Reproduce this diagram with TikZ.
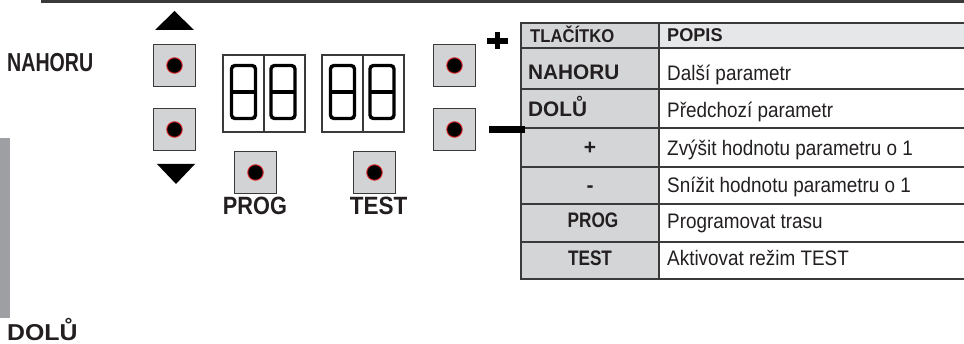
\documentclass[tikz,border=0pt]{standalone}
\usepackage{fontspec}
\setmainfont{Liberation Sans}
\definecolor{btngray}{HTML}{D1D3D4}
\definecolor{colgray}{HTML}{D4D5D7}
\definecolor{hdrgray}{HTML}{E6E7E8}
\definecolor{barcol}{HTML}{9D9FA2}
\definecolor{ink}{HTML}{231F20}
\definecolor{edge}{HTML}{3A3A3A}
\definecolor{dotred}{HTML}{E0262B}
\newcommand{\fnt}[2]{\fontsize{#1}{#1}\selectfont\addfontfeatures{FakeStretch=#2}}
\tikzset{
  btn/.style={draw=edge, line width=1.6pt, fill=btngray, minimum size=42pt, inner sep=0pt},
  btndot/.style={circle, fill=black, draw=dotred, line width=0.9pt, minimum size=15.5pt, inner sep=0pt},
  dispcell/.style={draw=edge, line width=1.1pt, minimum width=41pt, minimum height=77pt, inner sep=0pt},
  digitline/.style={draw=black, line width=3.4pt, rounded corners=3.5pt},
  eight/.pic={\draw[digitline] (0,0) rectangle (24,53); \draw[draw=black, line width=3.4pt] (0,26.5) -- (24,26.5);},
  lbl/.style={text=ink, inner sep=0pt},
  grid/.style={draw=edge, line width=1.2pt},
  gridv/.style={draw=edge, line width=1.8pt}
}
\begin{document}
\begin{tikzpicture}[x=1pt,y=-1pt]
\useasboundingbox (0,0) rectangle (964,344);
% top rule and side bar
\fill[edge] (41,0) rectangle (964,2.8);
\fill[barcol] (0,138) rectangle (10,318);
% left labels
\node[lbl, anchor=base west, font=\bfseries\fnt{26}{0.755}] (lnahoru) at (7,72) {NAHORU};
\node[lbl, anchor=base west, font=\bfseries\fnt{23}{1.08}] (ldolu) at (7,340.5) {DOLŮ};
% arrows
\fill[black] (155,30) -- (174.5,11) -- (194,30) -- cycle;
\fill[black] (157,164) -- (195,164) -- (176,184) -- cycle;
% buttons
\node[btn] (bup) at (174.5,65.5) {};
\node[btn] (bdown) at (174.5,129.5) {};
\node[btn] (bprog) at (255.5,172.5) {};
\node[btn] (btest) at (374.5,172.5) {};
\node[btn] (bplus) at (454.5,65.5) {};
\node[btn] (bminus) at (454.5,129.5) {};
\foreach \b in {bup,bdown,bprog,btest,bplus,bminus}
  \node[btndot] (\b dot) at (\b.center) {};
% displays
\node[dispcell] (d1a) at (243.5,93.5) {};
\node[dispcell] (d1b) at (284.5,93.5) {};
\node[dispcell] (d2a) at (342.5,93.5) {};
\node[dispcell] (d2b) at (383.5,93.5) {};
\pic at (231.5,65.5) {eight};
\pic at (271,65.5) {eight};
\pic at (330.5,65.5) {eight};
\pic at (370,65.5) {eight};
% button labels
\node[lbl, anchor=base, font=\bfseries\fnt{25}{0.87}] (lprog) at (255,215) {PROG};
\node[lbl, anchor=base, font=\bfseries\fnt{25}{0.9}] (ltest) at (378.5,215) {TEST};
% plus / minus marks
\draw[black, line width=5.5pt] (487,41) -- (508,41);
\draw[black, line width=5.5pt] (497.5,32.5) -- (497.5,49.5);
% table
\fill[colgray] (521,23) rectangle (659,279);
\fill[hdrgray] (659,23) rectangle (964,48);
\foreach \yy in {23,48,89,128,167,204,242,279}
  \draw[grid] (521,\yy) -- (964,\yy);
\draw[gridv] (521,22.4) -- (521,279.6);
\draw[gridv] (659,22.4) -- (659,279.6);
\coordinate (mstart) at (489,129.5);
\coordinate (tleft) at (525,129.5);
\draw[black, line width=7pt] (mstart) -- (tleft);
% table texts
\node[lbl, anchor=base west, font=\bfseries\fnt{18.5}{0.9}] (h1) at (530,43) {TLAČÍTKO};
\node[lbl, anchor=base west, font=\bfseries\fnt{18.5}{0.98}] (h2) at (667,42) {POPIS};
\node[lbl, anchor=base west, font=\bfseries\fnt{21}{0.99}] (k1) at (528,80) {NAHORU};
\node[lbl, anchor=base west, font=\bfseries\fnt{21}{0.99}] (k2) at (528,117) {DOLŮ};
\node[lbl, anchor=base, font=\bfseries\fnt{21}{1}] (k3) at (590,155) {+};
\node[lbl, anchor=base, font=\bfseries\fnt{21}{1}] (k4) at (590,193) {-};
\node[lbl, anchor=base, font=\bfseries\fnt{21}{0.82}] (k5) at (593,228) {PROG};
\node[lbl, anchor=base, font=\bfseries\fnt{21}{0.82}] (k6) at (590,266) {TEST};
\node[lbl, anchor=base west, font=\fnt{21}{0.9}] (p1) at (667,81) {Další parametr};
\node[lbl, anchor=base west, font=\fnt{21}{0.9}] (p2) at (667,118) {Předchozí parametr};
\node[lbl, anchor=base west, font=\fnt{21}{0.9}] (p3) at (667,156) {Zvýšit hodnotu parametru o 1};
\node[lbl, anchor=base west, font=\fnt{21}{0.9}] (p4) at (667,193) {Snížit hodnotu parametru o 1};
\node[lbl, anchor=base west, font=\fnt{21}{0.9}] (p5) at (667,229) {Programovat trasu};
\node[lbl, anchor=base west, font=\fnt{21}{0.9}] (p6) at (667,266) {Aktivovat režim TEST};
\end{tikzpicture}
\end{document}
